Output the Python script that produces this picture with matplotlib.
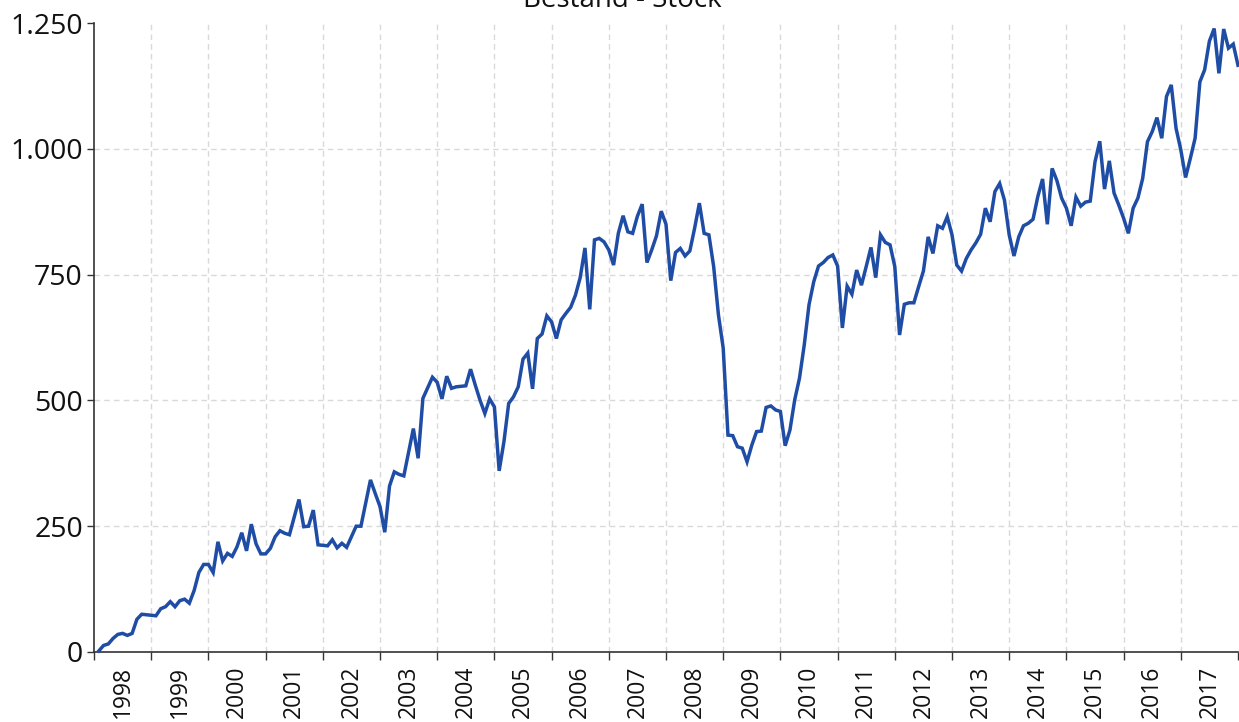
import matplotlib
matplotlib.use("Agg")
import matplotlib.pyplot as plt
import matplotlib.ticker as mticker
import numpy as np

plt.rcParams['font.family'] = ['Open Sans', 'DejaVu Sans']

title = "Bestand - Stock"
years = list(range(1998, 2018))
# monthly stock values, Jan 1998 .. Dec 2017
values = [
    2, 13, 16, 27, 35, 37, 33, 37, 65, 75, 74, 73,                 # 1998
    72, 86, 90, 100, 90, 102, 105, 97, 122, 158, 174, 174,         # 1999
    158, 219, 181, 196, 190, 209, 237, 201, 254, 215, 195, 195,    # 2000
    206, 229, 241, 236, 233, 268, 303, 249, 250, 282, 213, 212,    # 2001
    211, 223, 207, 216, 208, 229, 250, 250, 296, 342, 315, 289,    # 2002
    238, 330, 358, 353, 350, 397, 444, 385, 504, 525, 546, 536,    # 2003
    503, 548, 524, 527, 528, 529, 562, 530, 500, 474, 503, 487,    # 2004
    360, 418, 494, 507, 527, 582, 594, 523, 623, 632, 668, 656,    # 2005
    623, 660, 673, 685, 709, 744, 803, 681, 819, 822, 815, 799,    # 2006
    769, 832, 867, 835, 832, 866, 890, 774, 799, 827, 876, 850,    # 2007
    738, 794, 802, 787, 797, 842, 892, 832, 829, 766, 670, 604,    # 2008
    431, 430, 408, 405, 378, 411, 438, 439, 486, 489, 481, 478,    # 2009
    410, 441, 501, 544, 610, 690, 736, 767, 774, 784, 789, 767,    # 2010
    644, 727, 711, 759, 729, 766, 804, 744, 829, 814, 809, 766,    # 2011
    630, 691, 694, 694, 726, 757, 825, 792, 847, 842, 865, 829,    # 2012
    769, 757, 782, 799, 813, 830, 882, 855, 915, 931, 898, 829,    # 2013
    787, 825, 847, 852, 860, 905, 940, 850, 961, 937, 902, 882,    # 2014
    847, 904, 886, 894, 896, 974, 1015, 920, 976, 912, 888, 862,   # 2015
    832, 882, 902, 941, 1014, 1034, 1062, 1021, 1104, 1127, 1041, 998,  # 2016
    943, 981, 1021, 1133, 1157, 1214, 1239, 1150, 1238, 1200, 1208, 1166,  # 2017
]
y_ticks = [0, 250, 500, 750, 1000, 1250]

# month-end positions
x = [y + (m + 1) / 12.0 for y in years for m in range(12)]

fig = plt.figure(figsize=(12.39, 7.22), dpi=100)
ax = fig.add_axes([94 / 1239, 1 - 652 / 722, (1238 - 94) / 1239, (652 - 23) / 722])

ax.plot(x, values, color='#1F4DA5', linewidth=2.5, solid_joinstyle='miter', clip_on=False, zorder=3)

ax.set_xlim(1998, 2018)
ax.set_ylim(0, 1250)

ax.set_yticks(y_ticks)
ax.yaxis.set_major_formatter(mticker.FuncFormatter(lambda v, p: f"{int(v):,}".replace(",", ".")))
ax.tick_params(axis='y', labelsize=20.5, length=5, width=1, color='#333333', pad=3, labelcolor='#111111')

ax.set_xticks([y for y in years] + [2018])
ax.set_xticklabels([])
ax.set_xticks([y + 0.5 for y in years], minor=True)
ax.set_xticklabels([str(y) for y in years], minor=True, rotation=90)
ax.tick_params(axis='x', which='major', length=6, width=1, color='#333333')
ax.tick_params(axis='x', which='minor', length=0, labelsize=16.5, pad=10, labelcolor='#111111')

ax.grid(True, which='major', color='#d9d9d9', linestyle=(0, (4, 3)), linewidth=1)
gl = ax.get_ygridlines()
gl[-1].set_visible(False)
xg = ax.get_xgridlines()
xg[0].set_visible(False)
xg[-1].set_visible(False)
ax.set_axisbelow(True)

for s in ['top', 'right']:
    ax.spines[s].set_visible(False)
for s in ['left', 'bottom']:
    ax.spines[s].set_color('#333333')
    ax.spines[s].set_linewidth(1.2)

fig.text(0.502, 1 - 7 / 722, title, ha='center', va='baseline', fontsize=20, color='#111111')

fig.savefig("out.png", dpi=100)
